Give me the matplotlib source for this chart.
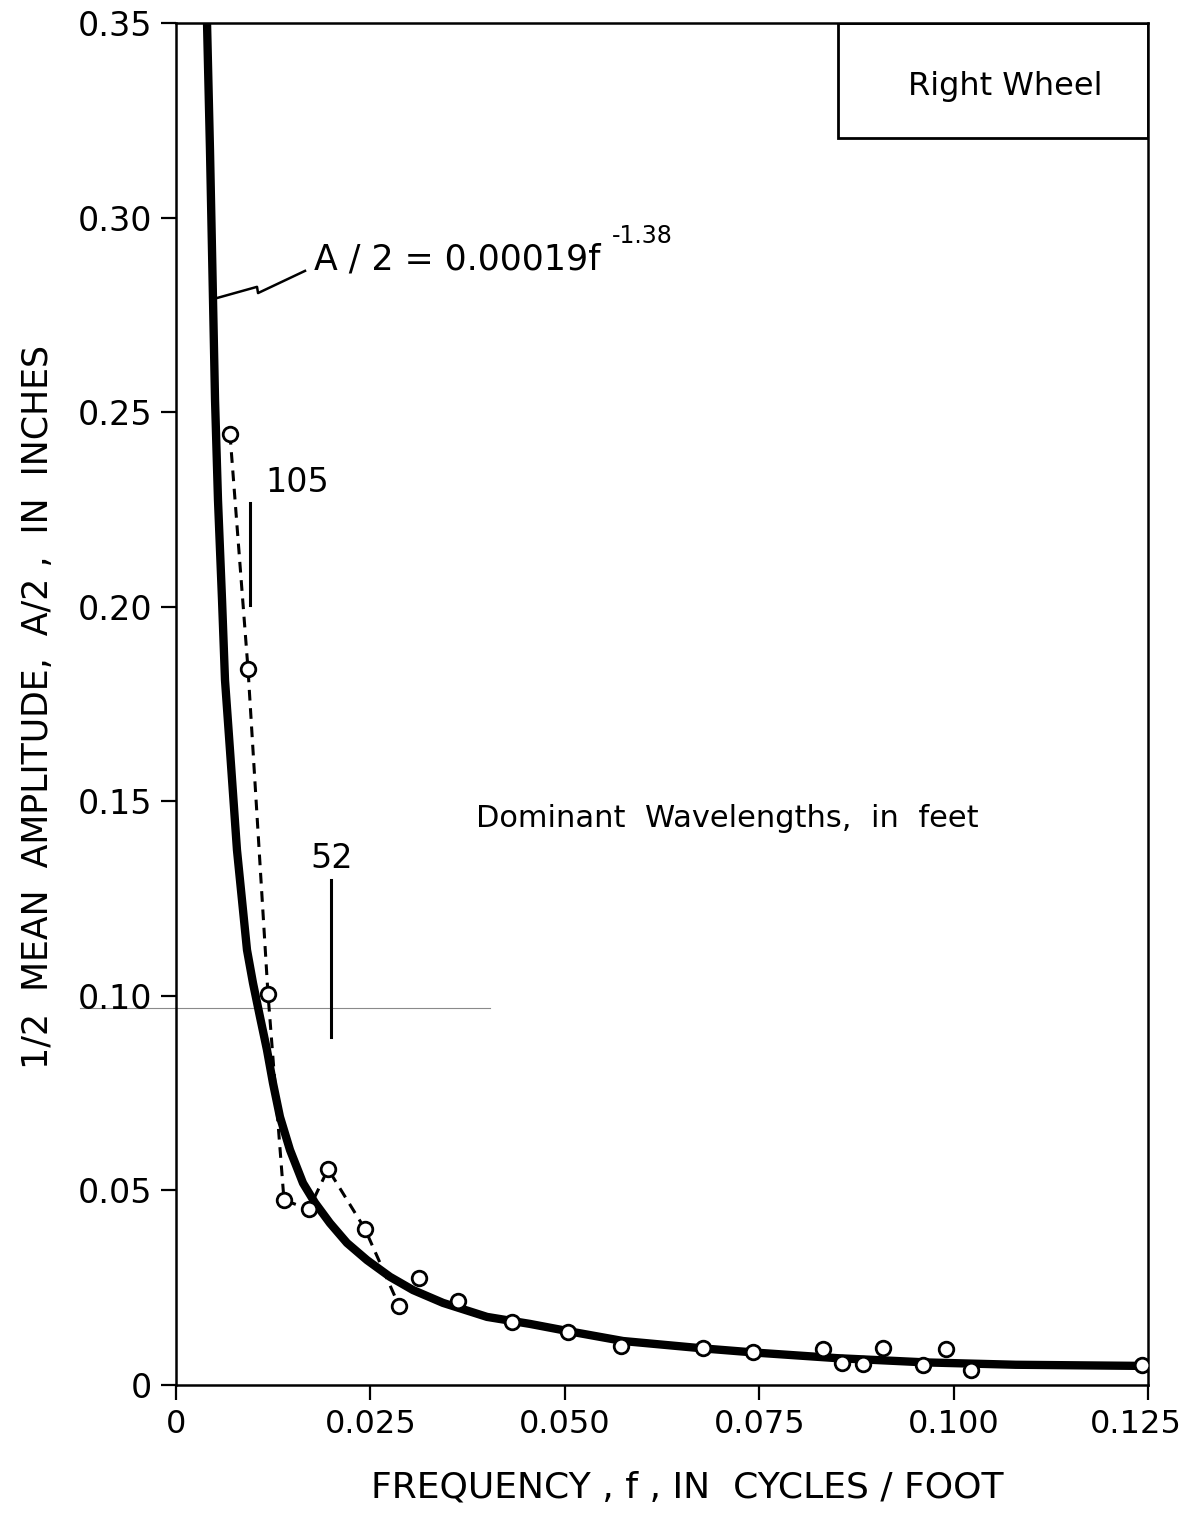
import matplotlib
matplotlib.use('Agg')
import matplotlib.pyplot as plt
import matplotlib.transforms as mtransforms
from matplotlib.patches import Rectangle

plt.rcParams['font.family'] = ['DejaVu Sans']

# measured points (frequency, half amplitude)
freq = [0.00694, 0.00926, 0.01183, 0.01389, 0.01710, 0.01955, 0.02430, 0.02870,
        0.03125, 0.0363, 0.0432, 0.0504, 0.0572, 0.0678, 0.0742, 0.0832,
        0.0856, 0.0883, 0.0909, 0.0961, 0.0990, 0.1022, 0.1242]
amp = [0.2444, 0.1840, 0.1005, 0.0475, 0.0452, 0.0555, 0.0401, 0.0203,
       0.0275, 0.0216, 0.0162, 0.0136, 0.0100, 0.0095, 0.0085, 0.0093,
       0.0057, 0.0054, 0.0095, 0.0051, 0.0093, 0.0039, 0.0051]
# order in which the dashed line joins the first points
dash_order = [0, 1, 2, 3, 4, 5, 6, 7]

# fitted curve A/2 = 0.00019 f^-1.38
fit_f = [0.00399, 0.00437, 0.00476, 0.00502, 0.00540, 0.00592, 0.00630, 0.00694,
         0.00784, 0.00913, 0.00990, 0.01080, 0.01170, 0.01247, 0.01337, 0.01466,
         0.01633, 0.01788, 0.01980, 0.02199, 0.02456, 0.02752, 0.03048, 0.03434,
         0.04000, 0.04552, 0.05054, 0.05750, 0.06780, 0.07470, 0.08500, 0.09650,
         0.10800, 0.12474]
fit_a = [0.3500, 0.3174, 0.2788, 0.2531, 0.2274, 0.2017, 0.1812, 0.1632,
         0.1375, 0.1118, 0.1033, 0.0946, 0.0861, 0.0776, 0.0689, 0.0604,
         0.0519, 0.0468, 0.0416, 0.0365, 0.0321, 0.0278, 0.0244, 0.0211,
         0.0175, 0.0157, 0.0138, 0.0113, 0.0094, 0.0083, 0.0069, 0.0058,
         0.0052, 0.0049]

# dominant wavelength markers: (label, x, y_low, y_high)
wavelengths = [('105', 0.00952, 0.2005, 0.2267), ('52', 0.01993, 0.0894, 0.1298)]

xticks = [0, 0.025, 0.050, 0.075, 0.100, 0.125]
xtick_labels = ['0', '0.025', '0.050', '0.075', '0.100', '0.125']
yticks = [0, 0.05, 0.10, 0.15, 0.20, 0.25, 0.30, 0.35]
ytick_labels = ['0', '0.05', '0.10', '0.15', '0.20', '0.25', '0.30', '0.35']

fig = plt.figure(figsize=(11.9, 15.13), dpi=100)
ax = fig.add_axes([176/1190, 128/1513, 972/1190, 1362/1513])
ax.set_xlim(0, 0.125)
ax.set_ylim(0, 0.35)

# faint scan line near 0.10
ax.plot([-0.0123, 0.0404], [0.0969, 0.0969], color='#8a8a8a', lw=0.8, clip_on=False, zorder=1)

ax.plot(fit_f, fit_a, color='black', lw=6, solid_capstyle='butt',
        solid_joinstyle='round', zorder=2)
ax.plot([freq[i] for i in dash_order], [amp[i] for i in dash_order],
        color='black', lw=2.2, ls=(0, (3.5, 2.5)), zorder=3)
ax.plot(freq, amp, ls='', marker='o', ms=10.5, mfc='white', mec='black', mew=2, zorder=4)

for lab, x, y0, y1 in wavelengths:
    ax.plot([x, x], [y0, y1], color='black', lw=2.2, zorder=3)
ax.text(0.01145, 0.2318, '105', fontsize=24, va='center', ha='left')
ax.text(0.02006, 0.1354, '52', fontsize=24, va='center', ha='center')

# zigzag leader to the equation
ax.plot([0.0054, 0.01042, 0.01055, 0.01659], [0.2794, 0.2822, 0.2806, 0.2863],
        color='black', lw=1.8, zorder=3)
ax.text(0.0178, 0.2866, 'A / 2 = 0.00019f', fontsize=25, va='baseline', ha='left')
ax.text(0.0560, 0.2935, '-1.38', fontsize=17, va='baseline', ha='left')

ax.text(0.0709, 0.1457, 'Dominant  Wavelengths,  in  feet', fontsize=22,
        va='center', ha='center')

# title box
ax.add_patch(Rectangle((0.0851, 0.3205), 0.125 - 0.0851, 0.35 - 0.3205,
                       fill=False, lw=2, ec='black', zorder=5))
ax.text(0.1067, 0.3338, 'Right Wheel', fontsize=23, va='center', ha='center')

ax.set_xticks(xticks)
ax.set_xticklabels(xtick_labels)
ax.set_yticks(yticks)
ax.set_yticklabels(ytick_labels)
ax.tick_params(direction='out', length=11, width=1.6, labelsize=24, pad=6)
ax.tick_params(axis='x', labelsize=23)
for sp in ax.spines.values():
    sp.set_linewidth(1.8)

# keep the last x label inside the figure
last = ax.get_xticklabels()[-1]
last.set_transform(last.get_transform() +
                   mtransforms.ScaledTranslation(-12/100, 0, fig.dpi_scale_trans))

fig.text(38/1190, 1 - 707/1513, '1/2  MEAN  AMPLITUDE,  A/2 ,  IN  INCHES',
         rotation=90, ha='center', va='center', fontsize=25)
fig.text(687/1190, 1 - 1487/1513, 'FREQUENCY , f , IN  CYCLES / FOOT',
         ha='center', va='center', fontsize=26)

fig.savefig('out.png', dpi=100)
